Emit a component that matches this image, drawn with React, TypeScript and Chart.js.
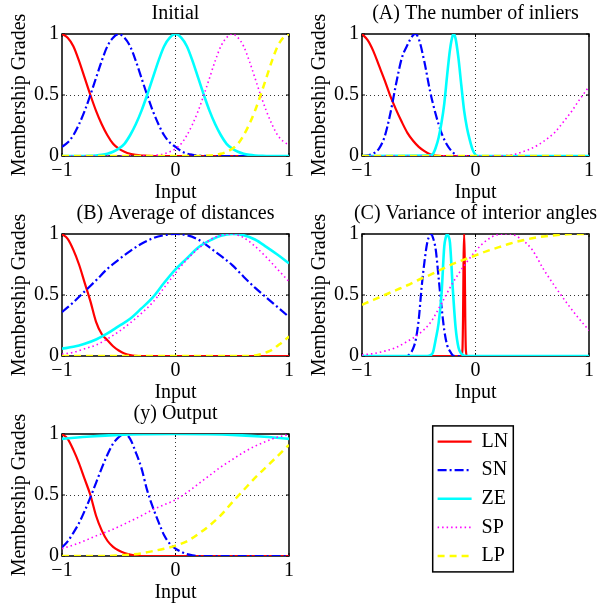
import React, { useEffect, useRef } from "react";
import { Chart, registerables } from "chart.js";

Chart.register(...registerables);

const FONT = '"Liberation Serif", "Times New Roman", Times, serif';

// ---- legend / series styling ----
const seriesNames = ["LN", "SN", "ZE", "SP", "LP"];
const seriesColors = ["#ff0000", "#0000ff", "#00ffff", "#ff00ff", "#ffff00"];
const seriesDashes = [[], [9, 3, 2, 3], [], [1.5, 3], [7, 5]];
const seriesWidths = [2.2, 2.2, 2.6, 1.6, 2.5];

// ---- axis ticks ----
const xTicks = [-1, 0, 1];
const yTicks = [0, 0.5, 1];
const xTitle = "Input";
const yTitle = "Membership Grades";

// ---- shared x grids ----
const x41 = [-1, -0.95, -0.9, -0.85, -0.8, -0.75, -0.7, -0.65, -0.6, -0.55, -0.5, -0.45, -0.4, -0.35, -0.3, -0.25, -0.2, -0.15, -0.1, -0.05, 0, 0.05, 0.1, 0.15, 0.2, 0.25, 0.3, 0.35, 0.4, 0.45, 0.5, 0.55, 0.6, 0.65, 0.7, 0.75, 0.8, 0.85, 0.9, 0.95, 1];
const x21 = [-1, -0.9, -0.8, -0.7, -0.6, -0.5, -0.4, -0.3, -0.2, -0.1, 0, 0.1, 0.2, 0.3, 0.4, 0.5, 0.6, 0.7, 0.8, 0.9, 1];

// ---- Initial ----
const initLN = [1, 0.97, 0.9, 0.78, 0.64, 0.5, 0.37, 0.26, 0.17, 0.1, 0.06, 0.035, 0.018, 0.009, 0.004, 0.002, 0, 0, 0, 0, 0, 0, 0, 0, 0, 0, 0, 0, 0, 0, 0, 0, 0, 0, 0, 0, 0, 0, 0, 0, 0];
const initSN = [0.075, 0.11, 0.17, 0.26, 0.37, 0.5, 0.64, 0.78, 0.9, 0.97, 1, 0.97, 0.9, 0.78, 0.64, 0.5, 0.37, 0.26, 0.17, 0.11, 0.075, 0.04, 0.02, 0.01, 0.004, 0.001, 0, 0, 0, 0, 0, 0, 0, 0, 0, 0, 0, 0, 0, 0, 0];
const initZE = [0, 0, 0, 0, 0, 0.002, 0.004, 0.009, 0.018, 0.035, 0.06, 0.1, 0.17, 0.26, 0.37, 0.5, 0.64, 0.78, 0.9, 0.97, 1, 0.97, 0.9, 0.78, 0.64, 0.5, 0.37, 0.26, 0.17, 0.1, 0.06, 0.035, 0.018, 0.009, 0.004, 0.002, 0, 0, 0, 0, 0];
const initSP = [0, 0, 0, 0, 0, 0, 0, 0, 0, 0, 0, 0, 0, 0, 0, 0.002, 0.004, 0.009, 0.018, 0.035, 0.06, 0.1, 0.17, 0.26, 0.37, 0.5, 0.64, 0.78, 0.9, 0.97, 1, 0.97, 0.9, 0.78, 0.64, 0.5, 0.37, 0.26, 0.17, 0.12, 0.09];
const initLP = [0, 0, 0, 0, 0, 0, 0, 0, 0, 0, 0, 0, 0, 0, 0, 0, 0, 0, 0, 0, 0, 0, 0, 0, 0, 0.002, 0.004, 0.009, 0.018, 0.035, 0.06, 0.1, 0.17, 0.26, 0.37, 0.5, 0.64, 0.78, 0.9, 0.97, 1];

// ---- (A) The number of inliers ----
const aLNx = [-1, -0.95, -0.9, -0.85, -0.8, -0.75, -0.7, -0.65, -0.6, -0.55, -0.5, -0.45, -0.4, -0.35, -0.3, 1];
const aLNy = [1, 0.95, 0.86, 0.74, 0.62, 0.49, 0.38, 0.28, 0.19, 0.125, 0.075, 0.04, 0.015, 0.004, 0, 0];
const aSNx = [-1, -0.95, -0.9, -0.85, -0.8, -0.75, -0.7, -0.65, -0.6, -0.55, -0.53, -0.5, -0.45, -0.4, -0.35, -0.3, -0.25, -0.2, -0.15, 1];
const aSNy = [0, 0.005, 0.02, 0.06, 0.16, 0.35, 0.59, 0.8, 0.91, 0.99, 1, 0.96, 0.77, 0.53, 0.34, 0.19, 0.09, 0.03, 0, 0];
const aZEx = [-1, -0.4, -0.375, -0.35, -0.325, -0.3, -0.275, -0.25, -0.225, -0.2, -0.19, -0.175, -0.15, -0.125, -0.1, -0.075, -0.05, -0.025, 0, 0.025, 1];
const aZEy = [0, 0.005, 0.016, 0.07, 0.15, 0.27, 0.43, 0.66, 0.87, 0.99, 1, 0.96, 0.8, 0.58, 0.37, 0.23, 0.13, 0.05, 0.01, 0, 0];
const aSPx = [-1, 0.2, 0.25, 0.3, 0.35, 0.4, 0.45, 0.5, 0.55, 0.6, 0.65, 0.7, 0.75, 0.8, 0.85, 0.9, 0.95, 1];
const aSPy = [0, 0, 0.002, 0.007, 0.015, 0.03, 0.045, 0.065, 0.09, 0.12, 0.155, 0.195, 0.25, 0.31, 0.37, 0.44, 0.505, 0.57];
const aLPx = [-1, 1];
const aLPy = [0, 0];

// ---- (B) Average of distances ----
const bLNx = [-1, -0.95, -0.9, -0.85, -0.8, -0.75, -0.7, -0.65, -0.6, -0.55, -0.5, -0.45, -0.4, -0.35, -0.3, 1];
const bLNy = [1, 0.96, 0.87, 0.75, 0.6, 0.45, 0.28, 0.18, 0.13, 0.08, 0.045, 0.02, 0.008, 0.002, 0, 0];
const bSN = [0.36, 0.44, 0.53, 0.62, 0.715, 0.79, 0.86, 0.92, 0.965, 0.99, 1, 0.99, 0.955, 0.89, 0.82, 0.745, 0.65, 0.56, 0.48, 0.4, 0.32];
const bZE = [0.06, 0.075, 0.1, 0.135, 0.185, 0.245, 0.305, 0.39, 0.48, 0.6, 0.71, 0.8, 0.89, 0.945, 0.985, 1, 0.99, 0.955, 0.895, 0.83, 0.76];
const bSP = [0.015, 0.03, 0.06, 0.09, 0.14, 0.2, 0.27, 0.35, 0.44, 0.56, 0.68, 0.79, 0.88, 0.95, 0.99, 1, 0.97, 0.9, 0.81, 0.71, 0.61];
const bLPx = [-1, 0.6, 0.7, 0.75, 0.8, 0.85, 0.9, 0.95, 1];
const bLPy = [0, 0, 0.005, 0.015, 0.03, 0.05, 0.085, 0.12, 0.16];

// ---- (C) Variance of interior angles ----
const cLNx = [-1, -0.125, -0.115, -0.11, -0.105, -0.1, -0.095, -0.09, -0.085, -0.075, 1];
const cLNy = [0, 0, 0.05, 0.3, 0.8, 1, 0.8, 0.3, 0.05, 0, 0];
const cSNx = [-1, -0.625, -0.6, -0.575, -0.55, -0.525, -0.5, -0.475, -0.45, -0.425, -0.4, -0.39, -0.375, -0.35, -0.325, -0.3, -0.275, -0.25, -0.225, -0.2, -0.175, 1];
const cSNy = [0, 0, 0.005, 0.02, 0.06, 0.14, 0.3, 0.56, 0.77, 0.93, 0.995, 1, 0.97, 0.87, 0.64, 0.41, 0.21, 0.09, 0.04, 0.005, 0, 0];
const cZEx = [-1, -0.425, -0.4, -0.375, -0.35, -0.325, -0.3, -0.275, -0.2625, -0.25, -0.2375, -0.225, -0.2, -0.175, -0.15, -0.125, -0.1, -0.075, 1];
const cZEy = [0, 0, 0.005, 0.03, 0.14, 0.27, 0.5, 0.9, 0.97, 1, 0.98, 0.93, 0.55, 0.23, 0.07, 0.02, 0.003, 0, 0];
const cSP = [0.01, 0.02, 0.04, 0.07, 0.12, 0.18, 0.27, 0.43, 0.6, 0.74, 0.86, 0.95, 0.995, 1, 0.96, 0.87, 0.71, 0.57, 0.44, 0.32, 0.21];
const cLP = [0.42, 0.46, 0.5, 0.54, 0.58, 0.625, 0.665, 0.71, 0.755, 0.79, 0.825, 0.86, 0.89, 0.92, 0.945, 0.965, 0.98, 0.99, 0.997, 1, 1];

// ---- (y) Output ----
const oLNx = [-1, -0.95, -0.9, -0.85, -0.8, -0.75, -0.7, -0.65, -0.6, -0.55, -0.5, -0.45, -0.4, -0.35, -0.3, 1];
const oLNy = [1, 0.96, 0.87, 0.76, 0.63, 0.5, 0.33, 0.21, 0.125, 0.075, 0.045, 0.025, 0.012, 0.004, 0, 0];
const oSNx = [-1, -0.95, -0.9, -0.85, -0.8, -0.75, -0.7, -0.65, -0.6, -0.55, -0.5, -0.45, -0.4, -0.35, -0.3, -0.25, -0.2, -0.15, -0.1, -0.05, 0, 0.05, 0.1, 0.15, 0.2, 1];
const oSNy = [0.07, 0.12, 0.19, 0.27, 0.37, 0.48, 0.6, 0.72, 0.83, 0.92, 0.975, 1, 0.96, 0.85, 0.72, 0.54, 0.4, 0.28, 0.17, 0.1, 0.06, 0.035, 0.015, 0.005, 0, 0];
const oZEx = [-1, -0.75, -0.5, -0.25, 0, 0.25, 0.5, 0.75, 1];
const oZEy = [0.96, 0.98, 0.993, 0.998, 1, 0.998, 0.993, 0.98, 0.96];
const oSP = [0.06, 0.09, 0.125, 0.165, 0.2, 0.24, 0.285, 0.33, 0.38, 0.42, 0.46, 0.52, 0.59, 0.66, 0.73, 0.79, 0.85, 0.9, 0.94, 0.975, 0.995];
const oLPx = [-1, -0.6, -0.5, -0.4, -0.3, -0.2, -0.1, 0, 0.1, 0.2, 0.3, 0.4, 0.5, 0.6, 0.7, 0.8, 0.9, 1];
const oLPy = [0, 0, 0.005, 0.012, 0.022, 0.04, 0.06, 0.085, 0.12, 0.18, 0.25, 0.335, 0.44, 0.54, 0.64, 0.73, 0.82, 0.91];

type Series = { x: number[]; y: number[] };

const panels: { title: string; left: number; top: number; series: Series[] }[] = [
  {
    title: "Initial", left: 0, top: 0,
    series: [
      { x: x41, y: initLN }, { x: x41, y: initSN }, { x: x41, y: initZE }, { x: x41, y: initSP }, { x: x41, y: initLP },
    ],
  },
  {
    title: "(A) The number of inliers", left: 300, top: 0,
    series: [
      { x: aLNx, y: aLNy }, { x: aSNx, y: aSNy }, { x: aZEx, y: aZEy }, { x: aSPx, y: aSPy }, { x: aLPx, y: aLPy },
    ],
  },
  {
    title: "(B) Average of distances", left: 0, top: 200,
    series: [
      { x: bLNx, y: bLNy }, { x: x21, y: bSN }, { x: x21, y: bZE }, { x: x21, y: bSP }, { x: bLPx, y: bLPy },
    ],
  },
  {
    title: "(C) Variance of interior angles", left: 300, top: 200,
    series: [
      { x: cLNx, y: cLNy }, { x: cSNx, y: cSNy }, { x: cZEx, y: cZEy }, { x: x21, y: cSP }, { x: x21, y: cLP },
    ],
  },
  {
    title: "(y) Output", left: 0, top: 400,
    series: [
      { x: oLNx, y: oLNy }, { x: oSNx, y: oSNy }, { x: oZEx, y: oZEy }, { x: x21, y: oSP }, { x: oLPx, y: oLPy },
    ],
  },
];

const font20 = { family: FONT, size: 20, weight: "normal" as const, lineHeight: 1.2 };

const framePlugin = {
  id: "frameBox",
  beforeDatasetsDraw(chart: any) {
    const { ctx, chartArea: a, scales } = chart;
    ctx.save();
    ctx.setLineDash([]);
    ctx.strokeStyle = "#000";
    ctx.lineWidth = 1.5;
    ctx.strokeRect(a.left, a.top, a.right - a.left, a.bottom - a.top);
    ctx.lineWidth = 1;
    ctx.beginPath();
    xTicks.forEach((v) => {
      const px = scales.x.getPixelForValue(v);
      ctx.moveTo(px, a.bottom);
      ctx.lineTo(px, a.bottom - 3);
      ctx.moveTo(px, a.top);
      ctx.lineTo(px, a.top + 3);
    });
    yTicks.forEach((v) => {
      const py = scales.y.getPixelForValue(v);
      ctx.moveTo(a.left, py);
      ctx.lineTo(a.left + 3, py);
      ctx.moveTo(a.right, py);
      ctx.lineTo(a.right - 3, py);
    });
    ctx.stroke();
    ctx.restore();
  },
};

function fmtX(v: number) {
  return v < 0 ? "\u2212" + Math.abs(v) : String(v);
}

function Panel({ title, left, top, series }: { title: string; left: number; top: number; series: Series[] }) {
  const ref = useRef<HTMLCanvasElement | null>(null);
  useEffect(() => {
    if (!ref.current) return;
    const chart = new Chart(ref.current, {
      type: "line",
      data: {
        datasets: series.map((s, i) => ({
          label: seriesNames[i],
          data: s.x.map((x, j) => ({ x, y: s.y[j] })),
          borderColor: seriesColors[i],
          backgroundColor: seriesColors[i],
          borderWidth: seriesWidths[i],
          borderDash: seriesDashes[i],
          borderCapStyle: "butt",
          pointRadius: 0,
          cubicInterpolationMode: "monotone",
          fill: false,
          order: 4 - i,
          xAxisID: "x",
          yAxisID: "y",
        })),
      },
      options: {
        animation: false,
        responsive: false,
        events: [],
        layout: { padding: 0 },
        plugins: {
          legend: { display: false },
          tooltip: { enabled: false },
          title: {
            display: true,
            text: title,
            color: "#000",
            font: font20,
            padding: { top: 2, bottom: 8 },
          },
        },
        scales: {
          x: {
            type: "linear",
            min: -1,
            max: 1,
            afterBuildTicks: (s: any) => {
              s.ticks = xTicks.map((v) => ({ value: v }));
            },
            afterFit: (s: any) => {
              s.height = 54;
            },
            grid: {
              color: (c: any) => (c.tick && c.tick.value === 0 ? "#333" : "rgba(0,0,0,0)"),
              lineWidth: 1,
              drawTicks: false,
            },
            border: { display: false, dash: [1, 3] },
            ticks: {
              color: "#000",
              font: font20,
              padding: 3,
              maxRotation: 0,
              autoSkip: false,
              callback: (v: any) => fmtX(Number(v)),
            },
            title: { display: true, text: xTitle, color: "#000", font: font20, padding: { top: 0, bottom: 5 } },
          },
          y: {
            type: "linear",
            position: "left",
            min: 0,
            max: 1,
            afterBuildTicks: (s: any) => {
              s.ticks = yTicks.map((v) => ({ value: v }));
            },
            afterFit: (s: any) => {
              s.width = 62;
            },
            grid: {
              color: (c: any) => (c.tick && c.tick.value === 0.5 ? "#333" : "rgba(0,0,0,0)"),
              lineWidth: 1,
              drawTicks: false,
            },
            border: { display: false, dash: [1, 3] },
            ticks: {
              color: "#000",
              font: font20,
              padding: 3,
              autoSkip: false,
              callback: (v: any) => String(v),
            },
            title: { display: true, text: yTitle, color: "#000", font: font20, padding: { top: 8, bottom: 0 } },
          },
          // empty right-hand spacer so the full-width title is centred over the plot
          yRight: {
            type: "linear",
            position: "right",
            min: 0,
            max: 1,
            grid: { display: false, drawTicks: false },
            border: { display: false },
            ticks: { display: false },
            afterFit: (s: any) => {
              s.width = 62;
            },
          },
        },
      } as any,
      plugins: [framePlugin],
    });
    return () => chart.destroy();
  }, []);
  return (
    <canvas
      ref={ref}
      width={351}
      height={210}
      style={{ position: "absolute", left, top, width: 351, height: 210 }}
    />
  );
}

const legendFramePlugin = {
  id: "legendFrame",
  afterDraw(chart: any) {
    const L = chart.legend;
    if (!L) return;
    const { ctx } = chart;
    ctx.save();
    ctx.setLineDash([]);
    ctx.strokeStyle = "#000";
    ctx.lineWidth = 1.5;
    ctx.strokeRect(L.left + 3.7, L.top + 2.9, 80.6, 146);
    ctx.restore();
  },
};

function LegendBox() {
  const ref = useRef<HTMLCanvasElement | null>(null);
  useEffect(() => {
    if (!ref.current) return;
    const chart = new Chart(ref.current, {
      type: "line",
      data: {
        datasets: seriesNames.map((n, i) => ({
          label: n,
          data: [],
          borderColor: seriesColors[i],
          borderWidth: seriesWidths[i],
          borderDash: seriesDashes[i],
        })),
      },
      options: {
        animation: false,
        responsive: false,
        events: [],
        layout: { padding: 0 },
        scales: { x: { display: false }, y: { display: false } },
        plugins: {
          tooltip: { enabled: false },
          title: { display: false },
          legend: {
            display: true,
            position: "left",
            align: "start",
            labels: {
              usePointStyle: true,
              pointStyle: "line",
              pointStyleWidth: 34,
              padding: 8.6,
              color: "#000",
              font: font20,
              generateLabels: (c: any) =>
                c.data.datasets.map((ds: any, i: number) => ({
                  text: ds.label,
                  fillStyle: ds.borderColor,
                  strokeStyle: ds.borderColor,
                  lineWidth: ds.borderWidth,
                  lineDash: ds.borderDash,
                  lineCap: "butt",
                  pointStyle: "line",
                  fontColor: "#000",
                  hidden: false,
                  datasetIndex: i,
                })),
            },
          },
        },
      } as any,
      plugins: [legendFramePlugin],
    });
    return () => chart.destroy();
  }, []);
  return (
    <canvas
      ref={ref}
      width={180}
      height={160}
      style={{ position: "absolute", left: 429, top: 423, width: 180, height: 160 }}
    />
  );
}

export default function App() {
  return (
    <div
      style={{
        position: "absolute",
        left: 0,
        top: 0,
        width: 598,
        height: 603,
        overflow: "hidden",
        background: "#fff",
      }}
    >
      {panels.map((p) => (
        <Panel key={p.title} title={p.title} left={p.left} top={p.top} series={p.series} />
      ))}
      <LegendBox />
    </div>
  );
}
